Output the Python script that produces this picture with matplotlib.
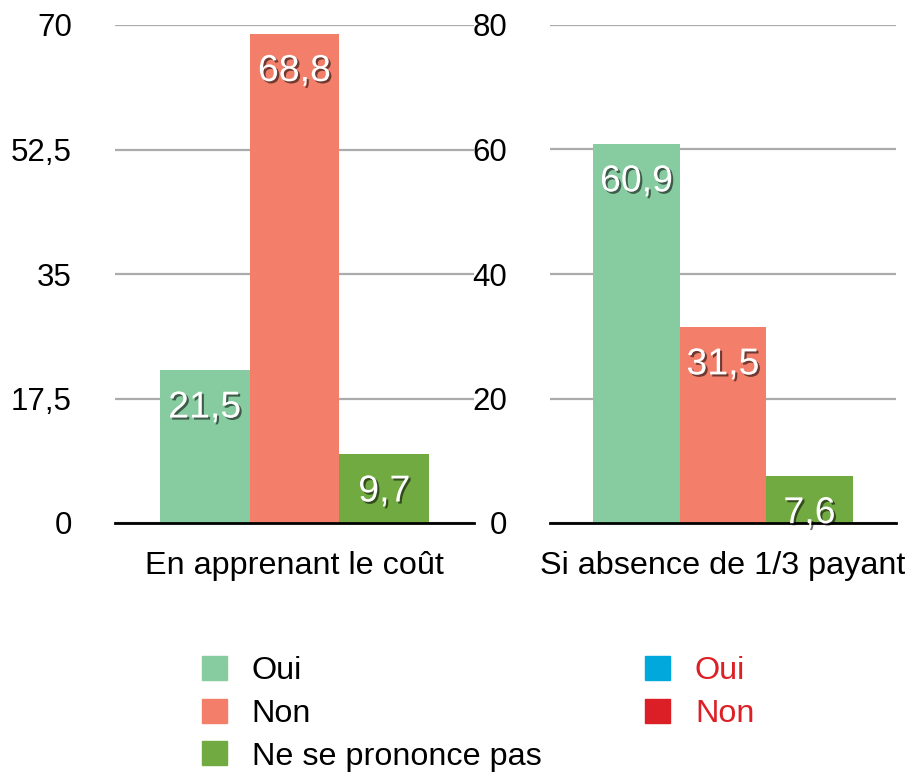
import matplotlib
matplotlib.use("Agg")
import matplotlib.pyplot as plt
import matplotlib.patches as mpatches
import matplotlib.patheffects as pe

plt.rcParams['font.family'] = ['Liberation Sans', 'DejaVu Sans']

categories = ["En apprenant le coût", "Si absence de 1/3 payant"]
series_names = ["Oui", "Non", "Ne se prononce pas"]
values_left = [21.5, 68.8, 9.7]
values_right = [60.9, 31.5, 7.6]
ticks_left = [0, 17.5, 35, 52.5, 70]
ticks_right = [0, 20, 40, 60, 80]
extra_legend = ["Oui", "Non"]

colors = ["#87CBA0", "#F37F6B", "#72AA42"]
extra_colors = ["#00A8DC", "#DC1F26"]
extra_text_color = "#DC2026"

def fmt(v):
    s = ("%g" % v)
    return s.replace(".", ",")

fig = plt.figure(figsize=(9.05, 7.74), dpi=100)
ax1 = fig.add_axes([115/905, 251/774, 359/905, 498/774])
ax2 = fig.add_axes([550/905, 251/774, 346/905, 498/774])

shadow = [pe.SimplePatchShadow(offset=(1.5, -1.5), shadow_rgbFace="black", alpha=0.55), pe.Normal()]

for ax, vals, ticks, cat in [(ax1, values_left, ticks_left, categories[0]),
                             (ax2, values_right, ticks_right, categories[1])]:
    xs = [-1, 0, 1]
    ax.bar(xs, vals, width=1.0, color=colors, zorder=3)
    ax.set_xlim(-2, 2)
    ax.set_ylim(0, ticks[-1])
    ax.set_yticks(ticks)
    ax.set_yticklabels([fmt(t) for t in ticks], fontsize=22.5)
    ax.tick_params(axis='y', length=0, pad=31)
    ax.set_xticks([0])
    ax.set_xticklabels([cat], fontsize=23.3)
    ax.tick_params(axis='x', length=0, pad=20)
    for s in ["top", "right", "left"]:
        ax.spines[s].set_visible(False)
    ax.spines["bottom"].set_color("black")
    ax.spines["bottom"].set_linewidth(2)
    ax.spines["bottom"].set_zorder(4)
    ax.yaxis.grid(True, color="#ABABAB", linewidth=1.6, zorder=0)
    ax.set_axisbelow(True)
    ax.patch.set_alpha(0)
    for x, v in zip(xs, vals):
        t = ax.annotate(fmt(v), (x, v), xytext=(0, -27), textcoords="offset points",
                        ha="center", va="center", fontsize=27, color="white", zorder=5)
        t.set_path_effects(shadow)

handles = [mpatches.Patch(color=c) for c in colors] + [mpatches.Patch(color=c) for c in extra_colors]
labels = series_names + extra_legend
leg = fig.legend(handles, labels, ncol=2, loc="upper left",
                 bbox_to_anchor=(202/905, 1 - 656/774), frameon=False, fontsize=23.3,
                 handlelength=0.77, handleheight=0.77, handletextpad=0.77,
                 columnspacing=3.2, labelspacing=0.38, borderpad=0, borderaxespad=0)
for txt in leg.get_texts()[3:]:
    txt.set_color(extra_text_color)

fig.savefig("out.png", dpi=100)
